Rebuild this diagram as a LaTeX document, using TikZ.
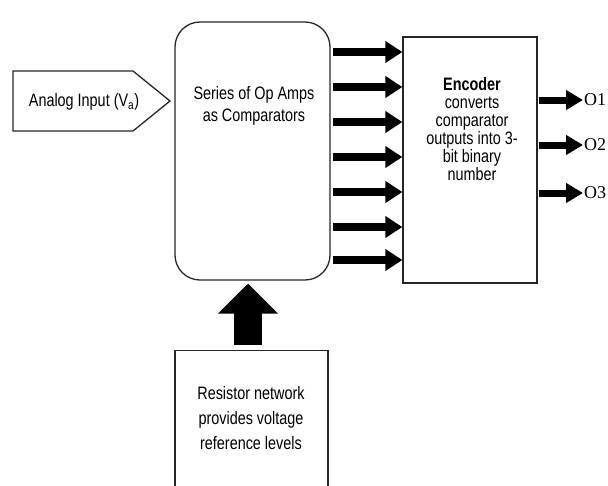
\documentclass[tikz,border=0pt]{standalone}
\usepackage{fontspec}
\setmainfont{Liberation Serif}
\newfontfamily\narrow[FakeStretch=0.8]{Liberation Sans}
\usetikzlibrary{arrows.meta}
\begin{document}
\begin{tikzpicture}[x=1pt,y=-1pt,
  box/.style={draw=black!85, line width=1.3pt},
  txt/.style={font=\narrow\fontsize{18}{18}\selectfont, align=center, inner sep=0pt},
  fat/.style={line width=8pt, -{Triangle[length=17pt,width=21pt]}},
  fatsm/.style={line width=7pt, -{Triangle[length=17pt,width=19pt]}},
  big/.style={line width=28pt, -{Triangle[length=30pt,width=58pt]}},
  outlbl/.style={font=\fontsize{18}{18}\selectfont, anchor=west, inner sep=1pt}]
\useasboundingbox (0,0) rectangle (608,485);
% analog input pentagon
\draw[box] (13,71) -- (133,71) -- (170,101) -- (133,131) -- (13,131) -- cycle;
\node[txt] (ain) at (84,102) {Analog Input (V\textsubscript{a})};
% comparators
\node[box, rounded corners=25pt, minimum width=155pt, minimum height=258pt, inner sep=0pt] (ser) at (252.5,151) {};
\node[txt, font=\narrow\fontsize{18}{22}\selectfont] (sert) at (254,106) {Series of Op Amps\\as Comparators};
% encoder
\node[box, minimum width=134pt, minimum height=246pt, inner sep=0pt] (enc) at (470,160) {};
\node[txt] (enct) at (472,129) {\textbf{Encoder}\\converts\\comparator\\outputs into 3-\\bit binary\\number};
% resistor network
\node[box, minimum width=153pt, minimum height=160pt, anchor=north, inner sep=0pt] (res) at (251.5,350) {};
\node[txt, font=\narrow\fontsize{18}{25}\selectfont] (rest) at (251,418) {Resistor network\\provides voltage\\reference levels};
% arrows
\foreach \yy in {52,87,122,157,192,227,260}
  \draw[fat] (ser.east |- 0,\yy) ++(2,0) -- (enc.west |- 0,\yy);
\draw[big] ([xshift=-3.5pt,yshift=5pt]res.north) -- ([xshift=-4.5pt,yshift=-3pt]ser.south);
\node[outlbl] (o1) at (583,100) {O1};
\node[outlbl] (o2) at (583,145) {O2};
\node[outlbl] (o3) at (583,193) {O3};
\foreach \o in {o1,o2,o3}
  \draw[fatsm] (enc.east |- \o.west) ++(1,0) -- (\o.west);
\end{tikzpicture}
\end{document}
